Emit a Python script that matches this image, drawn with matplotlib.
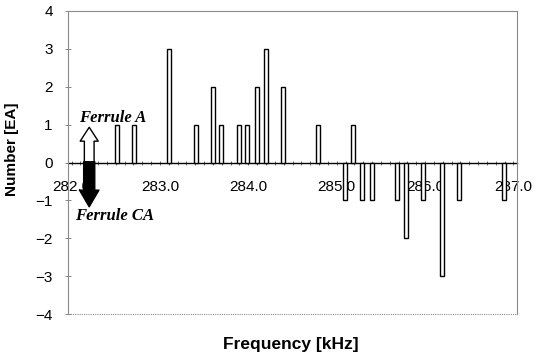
import matplotlib
matplotlib.use("Agg")
import matplotlib.pyplot as plt
from matplotlib.patches import FancyArrowPatch
from matplotlib.ticker import MultipleLocator

# resonance frequencies [kHz] and count difference (Ferrule A up, Ferrule CA down)
freq_a = [282.51, 282.71, 283.10, 283.41, 283.60, 283.69, 283.90, 283.99,
          284.10, 284.20, 284.39, 284.79, 285.18]
count_a = [1, 1, 3, 1, 2, 1, 1, 1, 2, 3, 2, 1, 1]
freq_ca = [285.09, 285.29, 285.40, 285.68, 285.78, 285.98, 286.19, 286.38, 286.89]
count_ca = [-1, -1, -1, -1, -2, -1, -3, -1, -1]
xticks = [282.0, 283.0, 284.0, 285.0, 286.0, 287.0]
yticks = [-4, -3, -2, -1, 0, 1, 2, 3, 4]

plt.rcParams['font.family'] = ['Liberation Sans', 'DejaVu Sans']
fig = plt.figure(figsize=(5.43, 3.58), dpi=100)
ax = fig.add_axes([68/543, 1-314/358, 449/543, 303/358])

ax.bar(freq_a, count_a, width=0.045, color='white', edgecolor='black', lw=1.0, zorder=3)
ax.bar(freq_ca, count_ca, width=0.045, color='white', edgecolor='black', lw=1.0, zorder=3)

ax.set_xlim(281.96, 287.04)
ax.set_ylim(-4, 4)

# frame
frame = dict(color='#8a8a8a', lw=0.8, ls=(0, (1, 1)))
for s in ['top', 'right', 'left']:
    ax.spines[s].set(**frame)
ax.axhline(-4, **frame, clip_on=False)
ax.spines['bottom'].set_position(('data', 0))
ax.spines['bottom'].set(color='black', lw=1.0, zorder=2)

ax.set_xticks(xticks)
ax.set_xticklabels(['%.1f' % v for v in xticks])
ax.xaxis.set_minor_locator(MultipleLocator(0.1))
ax.tick_params(axis='x', which='both', direction='inout', length=3, width=0.6,
               colors='#555555', labelcolor='black', labelsize=11, pad=11)
ax.set_yticks(yticks)
ax.tick_params(axis='y', direction='inout', length=4, width=0.6, color='#777777',
               labelsize=11, pad=9)

ax.set_xlabel('Frequency [kHz]', fontsize=12.5, fontweight='bold', va='center')
ax.xaxis.set_label_coords(0.497, -0.102)
ax.set_ylabel('Number [EA]', fontsize=11, fontweight='bold')
ax.yaxis.set_label_coords(-0.109, 0.545)

# legend-like arrows
up = FancyArrowPatch((282.2, 0.0), (282.2, 0.93), mutation_scale=1,
                     arrowstyle='simple,head_length=10,head_width=13,tail_width=7',
                     fc='white', ec='black', lw=1.0, shrinkA=0, shrinkB=0, zorder=4)
down = FancyArrowPatch((282.2, 0.02), (282.2, -1.17), mutation_scale=1,
                       arrowstyle='simple,head_length=12,head_width=14,tail_width=8',
                       fc='black', ec='black', lw=1.0, shrinkA=0, shrinkB=0, zorder=4)
ax.add_patch(up)
ax.add_patch(down)
ax.text(282.085, 1.17, 'Ferrule A', family='Liberation Serif', style='italic',
        fontweight='bold', fontsize=12, va='center', ha='left', zorder=5)
ax.text(282.04, -1.41, 'Ferrule CA', family='Liberation Serif', style='italic',
        fontweight='bold', fontsize=12, va='center', ha='left', zorder=5)

fig.savefig('out.png', dpi=100)
